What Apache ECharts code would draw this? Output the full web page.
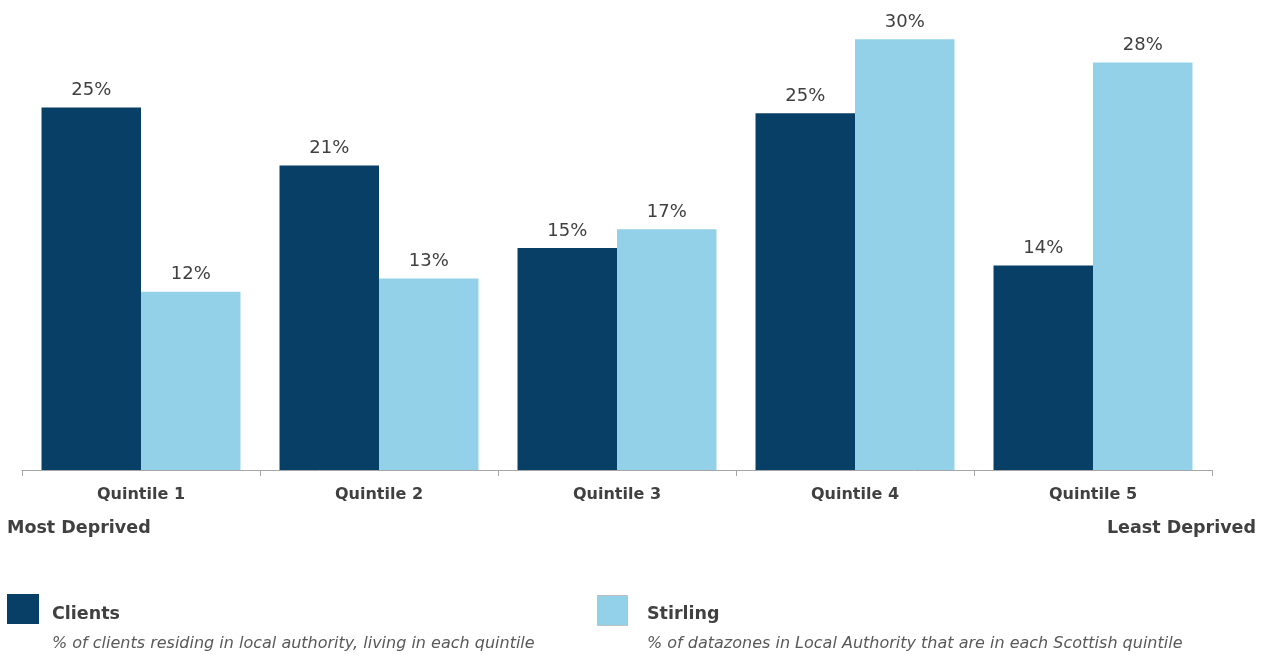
<!DOCTYPE html>
<html><head><meta charset="utf-8">
<script src="https://cdn.jsdelivr.net/npm/echarts@6/dist/echarts.min.js"></script>
<style>html,body{margin:0;padding:0;background:#fff}#c{width:1266px;height:655px}</style>
</head><body><div id="c"></div>
<script>
const categories = ['Quintile 1','Quintile 2','Quintile 3','Quintile 4','Quintile 5'];
const clients = [25.0, 21.0, 15.3, 24.6, 14.1];
const stirling = [12.3, 13.2, 16.6, 29.7, 28.1];
const seriesNames = ['Clients','Stirling'];
const seriesNotes = ['% of clients residing in local authority, living in each quintile',
                     '% of datazones in Local Authority that are in each Scottish quintile'];
const endLabels = ['Most Deprived','Least Deprived'];
const colors = ['#083F66','#92D1E8'];
const FONT = 'DejaVu Sans';
const chart = echarts.init(document.getElementById('c'));
const lbl = {show:true, position:'top', distance:8, color:'#404040', fontFamily:FONT, fontSize:18,
  formatter: p => Math.round(p.value) + '%'};
chart.setOption({
  animation:false,
  grid:{left:22, right:54, top:10, bottom:185},
  xAxis:{type:'category', data:categories,
    axisLine:{lineStyle:{color:'#A6A6A6', width:1}},
    axisTick:{show:true, length:6, lineStyle:{color:'#A6A6A6'}},
    axisLabel:{color:'#404040', fontFamily:FONT, fontWeight:'bold', fontSize:16, margin:17}},
  yAxis:{type:'value', min:0, max:31.72, show:false, splitLine:{show:false}},
  series:[
    {name:seriesNames[0], type:'bar', data:clients, barGap:'0%', barCategoryGap:'16.4%',
      itemStyle:{color:colors[0]}, label:lbl},
    {name:seriesNames[1], type:'bar', data:stirling,
      itemStyle:{color:colors[1]}, label:lbl}
  ],
  graphic:[
    {type:'text', left:7, top:519, style:{text:endLabels[0], fill:'#404040', font:'bold 17.5px "DejaVu Sans"'}},
    {type:'text', right:10, top:519, style:{text:endLabels[1], fill:'#404040', font:'bold 17.5px "DejaVu Sans"'}},
    {type:'rect', shape:{x:7, y:594, width:32, height:30}, style:{fill:colors[0]}},
    {type:'text', left:52, top:605, style:{text:seriesNames[0], fill:'#404040', font:'bold 17.5px "DejaVu Sans"'}},
    {type:'text', left:52, top:636, style:{text:seriesNotes[0], fill:'#595959', font:'italic 16px "DejaVu Sans"'}},
    {type:'rect', shape:{x:597.5, y:595.5, width:30, height:30}, style:{fill:colors[1], stroke:'#BFBFBF', lineWidth:1}},
    {type:'text', left:647, top:605, style:{text:seriesNames[1], fill:'#404040', font:'bold 17.5px "DejaVu Sans"'}},
    {type:'text', left:647, top:636, style:{text:seriesNotes[1], fill:'#595959', font:'italic 16px "DejaVu Sans"'}}
  ]
});
</script></body></html>
